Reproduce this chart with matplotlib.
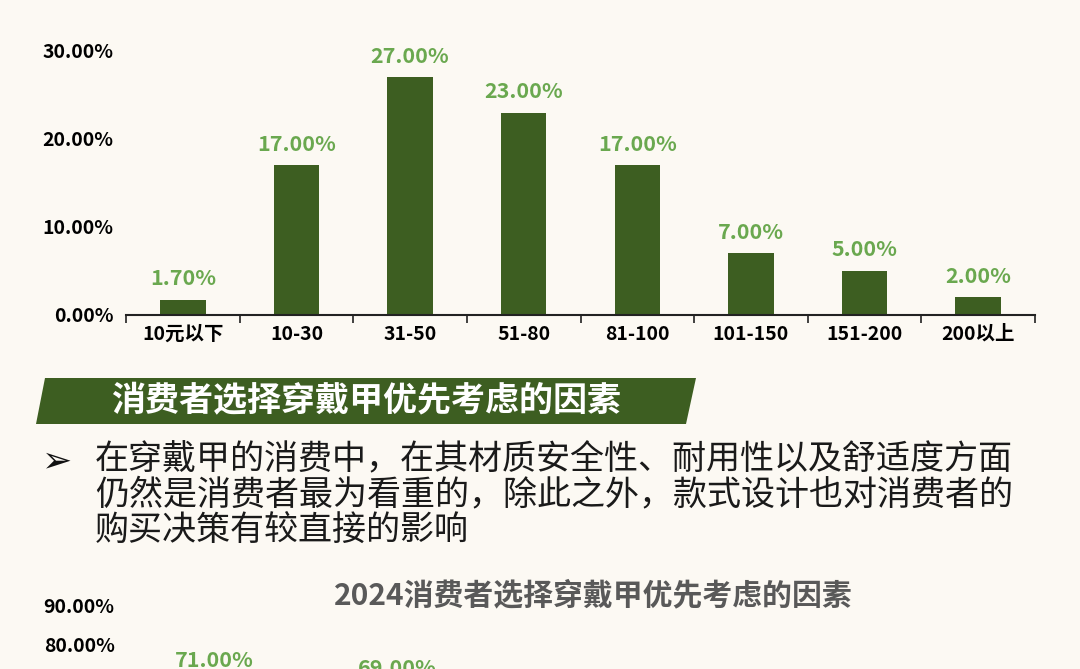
import matplotlib.pyplot as plt
from matplotlib.patches import Polygon

plt.rcParams['font.family'] = ['Noto Sans CJK SC', 'DejaVu Sans']

# price range distribution (top chart)
price_ranges = ['10元以下', '10-30', '31-50', '51-80', '81-100', '101-150', '151-200', '200以上']
price_share = [1.7, 17.0, 27.0, 23.0, 17.0, 7.0, 5.0, 2.0]
price_yticks = [0, 10, 20, 30]

# factors chart (only its top is visible in the picture)
factor_share = [71.0, 69.0]
factor_yticks = [80, 90]

banner_title = '消费者选择穿戴甲优先考虑的因素'
bullet_lines = [
    '在穿戴甲的消费中，在其材质安全性、耐用性以及舒适度方面',
    '仍然是消费者最为看重的，除此之外，款式设计也对消费者的',
    '购买决策有较直接的影响',
]
chart2_title = '2024消费者选择穿戴甲优先考虑的因素'

bg = '#fcf9f3'
bar_color = '#3d5e21'
label_green = '#6aa84f'

W, H = 1080, 669
fig = plt.figure(figsize=(W / 100, H / 100), dpi=100, facecolor=bg)


def fx(px):
    return px / W


def fy(py):
    return 1 - py / H


# ---- top bar chart ----
ax = fig.add_axes([fx(126), fy(315), fx(1035 - 126), (315 - 51) / H])
ax.set_facecolor('none')
x = range(len(price_ranges))
ax.bar(x, price_share, width=0.4, color=bar_color)
for xi, v in zip(x, price_share):
    ax.text(xi, v + 1.2, f'{v:.2f}%', ha='center', va='bottom', color=label_green,
            fontsize=15.5, fontweight='bold', clip_on=False)
ax.set_xlim(-0.5, len(price_ranges) - 0.5)
ax.set_ylim(0, 30)
ax.set_yticks(price_yticks)
ax.set_yticklabels([f'{t:.2f}%' for t in price_yticks], fontsize=14, fontweight='bold')
ax.set_xticks(x)
ax.set_xticklabels(price_ranges, fontsize=14, fontweight='bold')
ax.set_xticks([i - 0.5 for i in range(len(price_ranges) + 1)], minor=True)
ax.tick_params(axis='x', which='major', length=0, pad=7)
ax.tick_params(axis='x', which='minor', length=6, width=1.2, color='#222222')
ax.tick_params(axis='y', length=0, pad=9)
for s in ['top', 'right', 'left']:
    ax.spines[s].set_visible(False)
ax.spines['bottom'].set_linewidth(1.5)
ax.spines['bottom'].set_color('#222222')

# ---- banner ----
banner = Polygon([(fx(45), fy(378)), (fx(696), fy(378)), (fx(686), fy(424)), (fx(36), fy(424))],
                 closed=True, transform=fig.transFigure, facecolor=bar_color, edgecolor='none')
fig.patches.append(banner)
fig.text(fx(366), fy(401), banner_title, ha='center', va='center', color='white',
         fontsize=24.5, fontweight='bold')

# ---- bullet text ----
fig.text(fx(42), fy(461), '➢', ha='left', va='center', fontsize=26, color='#111111',
         family='DejaVu Sans')
for i, line in enumerate(bullet_lines):
    fig.text(fx(95), fy(460 + i * 35), line, ha='left', va='center', fontsize=24.5,
             color='#1a1a1a')

# ---- second chart (cut off at the bottom) ----
fig.text(fx(593), fy(595), chart2_title, ha='center', va='center', color='#595959',
         fontsize=21.5, fontweight='bold')
px_per_pct = (645 - 606) / 10
ax2 = fig.add_axes([fx(123), fy(606 + 90 * px_per_pct), fx(1038 - 123), 90 * px_per_pct / H])
ax2.set_facecolor('none')
x2 = range(len(factor_share))
ax2.bar(x2, factor_share, width=0.4, color=bar_color)
for xi, v in zip(x2, factor_share):
    ax2.text(xi, v + 2.3, f'{v:.2f}%', ha='center', va='bottom', color=label_green,
             fontsize=15.5, fontweight='bold')
ax2.set_xlim(-0.5, 4.5)
ax2.set_ylim(0, 90)
ax2.set_yticks(factor_yticks)
ax2.set_yticklabels([f'{t:.2f}%' for t in factor_yticks], fontsize=14, fontweight='bold')
ax2.tick_params(axis='y', length=0, pad=6)
ax2.set_xticks([])
for s in ['top', 'right', 'left']:
    ax2.spines[s].set_visible(False)

fig.savefig('out.png', dpi=100, facecolor=bg)
